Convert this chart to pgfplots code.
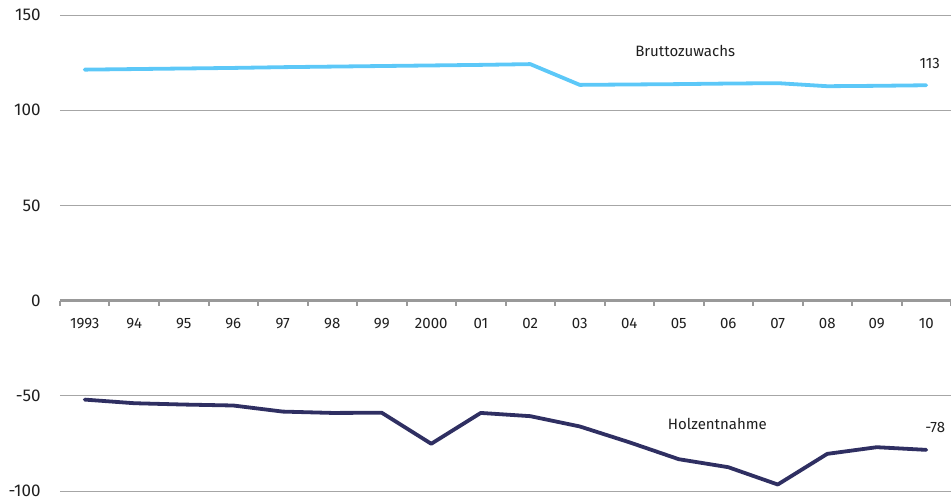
\documentclass[border=0pt]{standalone}
\usepackage{fontspec}
\setmainfont{Fira Sans}
\usepackage{pgfplots}
\pgfplotsset{compat=1.18}
\definecolor{brut}{HTML}{5CC8F8}
\definecolor{holz}{HTML}{2F2F62}
\definecolor{gridc}{HTML}{A6A6A6}
\definecolor{axc}{HTML}{999999}
\begin{document}
\begin{tikzpicture}
\begin{axis}[name=ax, scale only axis, width=891pt, height=476pt,
 xmin=-0.5, xmax=17.5, ymin=-100, ymax=150,
 axis x line=middle, axis y line=left,
 x axis line style={-, axc, line width=2.8pt},
 y axis line style={draw=none},
 xtick={0,...,17},
 xticklabels={1993,94,95,96,97,98,99,2000,01,02,03,04,05,06,07,08,09,10},
 major x tick style={draw=none},
 minor xtick={-0.5,0.5,...,17.5},
 minor x tick style={axc, line width=2pt},
 minor tick length=5pt,
 tick align=outside,
 ytick={-100,-50,0,50,100,150},
 ytick style={draw=none},
 ymajorgrids, grid style={gridc, line width=0.8pt},
 /pgf/number format/assume math mode=true,
 xticklabel style={font=\fontsize{15}{18}\selectfont, text=black!88, yshift=-10pt},
 yticklabel style={font=\fontsize{17}{20}\selectfont, text=black!88, anchor=east, inner sep=0pt, xshift=-15pt},
 clip=false,
]
\addplot[brut, line width=3.8pt, line join=round, line cap=round] coordinates {
(0,121.3) (1,121.6) (2,121.9) (3,122.2) (4,122.6) (5,122.9) (6,123.2) (7,123.5) (8,123.8) (9,124.2)
(10,113.3) (11,113.5) (12,113.7) (13,114.0) (14,114.2) (15,112.6) (16,112.8) (17,113.1)};
\addplot[holz, line width=3.8pt, line join=round, line cap=round] coordinates {
(0,-52.0) (1,-53.9) (2,-54.6) (3,-55.1) (4,-58.3) (5,-59.0) (6,-58.9) (7,-75.2) (8,-59.0) (9,-60.7)
(10,-66.1) (11,-74.4) (12,-83.3) (13,-87.5) (14,-96.6) (15,-80.5) (16,-77.0) (17,-78.4)};
\node[font=\fontsize{15}{18}\selectfont, text=black!88] at (axis cs:12.13,131) {Bruttozuwachs};
\node[font=\fontsize{15}{18}\selectfont, text=black!88] at (axis cs:17.07,124.5) {113};
\node[font=\fontsize{15}{18}\selectfont, text=black!88] at (axis cs:12.78,-64.8) {Holzentnahme};
\node[font=\fontsize{15}{18}\selectfont, text=black!88] at (axis cs:17.18,-66.4) {-78};
\end{axis}
\path (ax.south west) ++(-60pt,-11pt) coordinate (bl);
\path (ax.north east) ++(0pt,15pt) coordinate (tr);
\pgfresetboundingbox
\path[use as bounding box] (bl) rectangle (tr);
\end{tikzpicture}
\end{document}
